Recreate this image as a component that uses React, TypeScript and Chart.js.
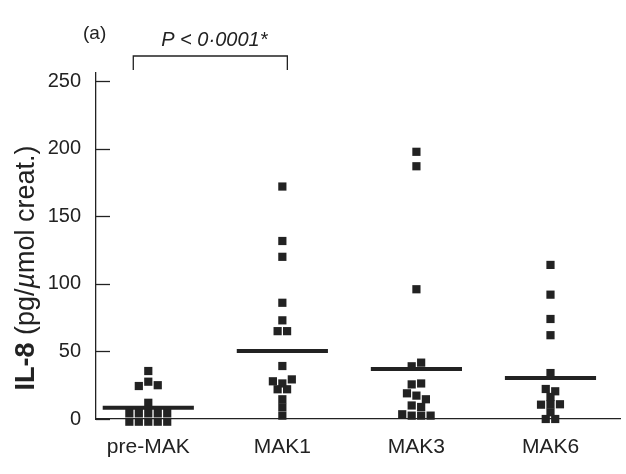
import React, { useEffect, useRef } from "react";
import { Chart, registerables } from "chart.js";

Chart.register(...registerables);

// ---- data ----
const categories = ["pre-MAK", "MAK1", "MAK3", "MAK6"];
const preMAK = [35.5, 24.4, 27.6, 25, 12, 4.4, 4.4, 4.4, 4.4, 4.4, -2, -2, -2, -2, -2];
const mak1 = [172, 131.7, 120, 86, 73, 65, 65, 39.2, 27.9, 26.3, 29.3, 22, 22, 14.6, 8.7, 2.5];
const mak3 = [197.7, 187, 96, 39, 41.7, 25.6, 26.3, 19, 17.3, 14.6, 10, 8.9, 3.5, 2.5, 2.5, 2.5];
const mak6 = [114, 92, 74, 62, 34, 22.2, 20.5, 16.3, 10.6, 10.9, 10.9, 5, 0, 0];
const medians = [8.4, 50.3, 37, 30.3];
const yTicks = [0, 50, 100, 150, 200, 250];
const panelLabel = "(a)";
const pLabel = "P < 0·0001*";
const yTitleBold = "IL-8";
const yTitleRest = " (pg/";
const yTitleMu = "µ";
const yTitleEnd = "mol creat.)";

const INK = "#222222";
const FONT = "'Liberation Sans', Arial, sans-serif";

// spread points with (nearly) equal values side by side, like a dot plot
function dodge(values: number[], idx: number, gap = 3, step = 0.0706) {
  const order = values.map((v, i) => ({ v, i })).sort((a, b) => b.v - a.v);
  const clusters: { v: number; i: number }[][] = [];
  let cur = [order[0]];
  for (let k = 1; k < order.length; k++) {
    if (cur[cur.length - 1].v - order[k].v < gap) cur.push(order[k]);
    else {
      clusters.push(cur);
      cur = [order[k]];
    }
  }
  clusters.push(cur);
  const pts: { x: number; y: number }[] = [];
  for (const c of clusters) {
    c.sort((a, b) => a.i - b.i);
    c.forEach((p, j) => pts.push({ x: idx + (j - (c.length - 1) / 2) * step, y: p.v }));
  }
  return pts;
}

const annotations = {
  id: "annotations",
  afterDraw(chart: any) {
    const ctx = chart.ctx as CanvasRenderingContext2D;
    const { left, top } = chart.chartArea;
    const x = chart.scales.x;
    const y = chart.scales.y;
    ctx.save();
    ctx.strokeStyle = INK;
    ctx.fillStyle = INK;
    ctx.lineWidth = 1.3;
    // inward tick marks on y axis
    for (const v of yTicks) {
      const py = Math.round(y.getPixelForValue(v)) + 0.5;
      ctx.beginPath();
      ctx.moveTo(left, py);
      ctx.lineTo(left + 14, py);
      ctx.stroke();
    }
    // panel label
    ctx.textBaseline = "alphabetic";
    ctx.textAlign = "left";
    ctx.font = `19px ${FONT}`;
    ctx.fillText(panelLabel, 83, 39);
    // significance bracket between pre-MAK and MAK1
    const bx0 = x.getPixelForValue(0) - 15;
    const bx1 = x.getPixelForValue(1) + 5;
    const by = top - 17;
    ctx.beginPath();
    ctx.moveTo(bx0, by + 14);
    ctx.lineTo(bx0, by);
    ctx.lineTo(bx1, by);
    ctx.lineTo(bx1, by + 14);
    ctx.stroke();
    ctx.font = `italic 20px ${FONT}`;
    ctx.textAlign = "center";
    ctx.fillText(pLabel, (bx0 + bx1) / 2 + 4, by - 10);
    // y axis title
    const size = 27;
    const parts = [
      { t: yTitleBold, f: `bold ${size}px ${FONT}` },
      { t: yTitleRest, f: `${size}px ${FONT}` },
      { t: yTitleMu, f: `italic ${size}px ${FONT}` },
      { t: yTitleEnd, f: `${size}px ${FONT}` },
    ];
    let total = 0;
    for (const p of parts) {
      ctx.font = p.f;
      total += ctx.measureText(p.t).width;
    }
    ctx.translate(34, 268);
    ctx.rotate(-Math.PI / 2);
    ctx.textAlign = "left";
    let cx = -total / 2;
    for (const p of parts) {
      ctx.font = p.f;
      ctx.fillText(p.t, cx, 0);
      cx += ctx.measureText(p.t).width;
    }
    ctx.restore();
  },
};

export default function App() {
  const ref = useRef<HTMLCanvasElement | null>(null);
  useEffect(() => {
    if (!ref.current) return;
    const groups = [preMAK, mak1, mak3, mak6];
    const pointSets = groups.map((g, i) => ({
      type: "scatter" as const,
      data: dodge(g, i),
      pointStyle: "rect",
      pointRadius: 5.8,
      pointBorderWidth: 0,
      backgroundColor: INK,
      borderColor: INK,
      clip: false,
    }));
    const medianSets = medians.map((m, i) => ({
      type: "scatter" as const,
      data: [
        { x: i - 0.34, y: m },
        { x: i + 0.34, y: m },
      ],
      showLine: true,
      pointRadius: 0,
      borderWidth: 4,
      borderColor: INK,
      borderCapStyle: "butt",
      clip: false,
    }));
    const chart = new Chart(ref.current, {
      type: "scatter",
      data: { datasets: [...medianSets, ...pointSets] as any },
      options: {
        responsive: false,
        animation: false,
        layout: { padding: { top: 73, right: 5, left: 0, bottom: 0 } },
        plugins: { legend: { display: false }, tooltip: { enabled: false } },
        scales: {
          x: {
            type: "linear",
            min: -0.39,
            max: 3.52,
            grid: { display: false, drawTicks: false },
            border: { display: true, color: INK, width: 1.3 },
            afterBuildTicks: (s: any) => {
              s.ticks = categories.map((_, i) => ({ value: i }));
            },
            afterFit: (s: any) => {
              s.height = 55;
            },
            ticks: {
              autoSkip: false,
              maxRotation: 0,
              padding: 16,
              color: INK,
              font: { family: FONT, size: 21 },
              callback: (v: any) => categories[v] ?? "",
            },
          },
          y: {
            min: 0,
            max: 256,
            grid: { display: false, drawTicks: false },
            border: { display: true, color: INK, width: 1.3 },
            afterBuildTicks: (s: any) => {
              s.ticks = yTicks.map((v) => ({ value: v }));
            },
            afterFit: (s: any) => {
              s.width = 96;
            },
            ticks: {
              padding: 15,
              color: INK,
              font: { family: FONT, size: 20 },
            },
          },
        },
      } as any,
      plugins: [annotations],
    });
    return () => chart.destroy();
  }, []);
  return (
    <div style={{ position: "fixed", left: 0, top: 0, width: 626, height: 474, background: "#fff" }}>
      <canvas ref={ref} width={626} height={474} />
    </div>
  );
}
